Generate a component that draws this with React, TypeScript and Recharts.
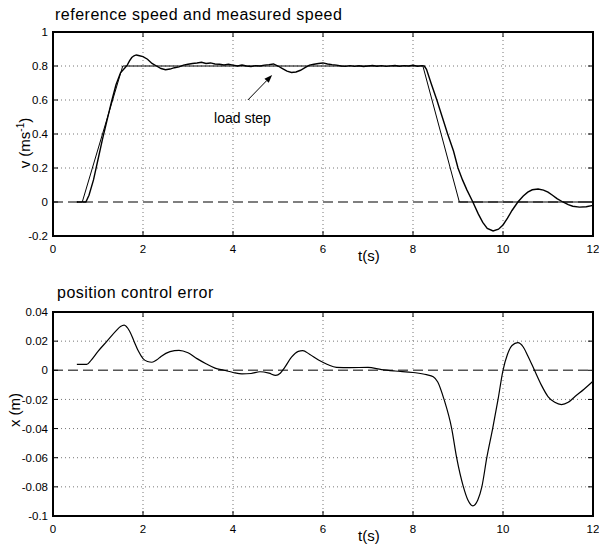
import {
  LineChart,
  Line,
  XAxis,
  YAxis,
  CartesianGrid,
  ReferenceLine,
  ReferenceDot,
} from "recharts";

// reference speed profile (m/s)
const refT = [0.53, 0.65, 1.55, 8.22, 9.03, 12];
const refV = [0, 0, 0.8, 0.8, 0, 0];

// measured speed (m/s)
const measT = [
  0.53, 0.73, 0.8, 0.9, 1.0, 1.1, 1.2, 1.3, 1.4, 1.5, 1.6, 1.65, 1.7, 1.75, 1.8, 1.85, 1.9, 2.0,
  2.1, 2.2, 2.3, 2.4, 2.5, 2.6, 2.7, 2.8, 2.9, 3.0, 3.1, 3.2, 3.3, 3.4, 3.5, 3.6, 3.7, 3.8, 3.9,
  4.0, 4.1, 4.2, 4.3, 4.4, 4.5, 4.6, 4.7, 4.8, 4.9, 5.0, 5.1, 5.2, 5.3, 5.4, 5.5, 5.6, 5.7, 5.8,
  5.9, 6.0, 6.1, 6.2, 6.3, 6.4, 6.5, 6.6, 6.7, 6.8, 6.9, 7.0, 7.1, 7.2, 7.3, 7.4, 7.5, 7.6, 7.7,
  7.8, 7.9, 8.0, 8.1, 8.2, 8.25, 8.3, 8.4, 8.53, 8.65, 8.77, 8.9, 9.0, 9.1, 9.2, 9.33, 9.45,
  9.55, 9.65, 9.78, 9.9, 10.0, 10.1, 10.2, 10.33, 10.45, 10.55, 10.65, 10.78, 10.9, 11.0, 11.1,
  11.2, 11.33, 11.45, 11.55, 11.7, 11.85, 12.0,
];
const measV = [
  0, 0, 0.04, 0.13, 0.25, 0.37, 0.48, 0.59, 0.69, 0.76, 0.79, 0.805, 0.83, 0.85, 0.86, 0.865,
  0.862, 0.855, 0.84, 0.815, 0.8, 0.785, 0.778, 0.782, 0.79, 0.795, 0.805, 0.81, 0.815, 0.818,
  0.822, 0.815, 0.818, 0.812, 0.81, 0.806, 0.81, 0.805, 0.8, 0.806, 0.8, 0.797, 0.802, 0.8,
  0.805, 0.808, 0.812, 0.8, 0.785, 0.77, 0.762, 0.765, 0.775, 0.79, 0.805, 0.81, 0.815, 0.818,
  0.812, 0.808, 0.805, 0.8, 0.798, 0.802, 0.798, 0.801, 0.797, 0.8, 0.803, 0.799, 0.802, 0.798,
  0.801, 0.803, 0.799, 0.802, 0.8, 0.804, 0.799, 0.802, 0.8, 0.78, 0.7, 0.6, 0.5, 0.4, 0.3, 0.2,
  0.13, 0.07, 0, -0.07, -0.12, -0.155, -0.17, -0.16, -0.135, -0.095, -0.05, 0, 0.035, 0.058,
  0.072, 0.076, 0.07, 0.058, 0.04, 0.02, 0, -0.015, -0.025, -0.03, -0.028, -0.02,
];

// position control error (m)
const errT = [
  0.53, 0.75, 0.85, 1.0, 1.2, 1.4, 1.5, 1.58, 1.7, 1.8, 1.9, 2.0, 2.1, 2.2, 2.3, 2.4, 2.6, 2.8,
  3.0, 3.2, 3.4, 3.6, 3.8, 4.0, 4.2, 4.4, 4.6, 4.8, 4.95, 5.05, 5.15, 5.3, 5.45, 5.55, 5.7, 5.9,
  6.1, 6.3, 6.6, 7.0, 7.3, 7.6, 8.0, 8.3, 8.45, 8.55, 8.69, 8.86, 8.97, 9.12, 9.22, 9.33, 9.44,
  9.53, 9.64, 9.77, 9.89, 10.0, 10.1, 10.2, 10.33, 10.45, 10.55, 10.7, 10.85, 11.0, 11.15, 11.3,
  11.45, 11.6, 11.8, 12.0,
];
const errX = [
  0.004, 0.004, 0.007, 0.013, 0.02, 0.027, 0.03, 0.031, 0.027, 0.02, 0.013, 0.008, 0.006, 0.0055,
  0.007, 0.0095, 0.0128, 0.0137, 0.012, 0.008, 0.0045, 0.0015, 0, -0.0015, -0.0025, -0.0022,
  -0.001, -0.002, -0.0035, -0.002, 0.002, 0.009, 0.013, 0.0135, 0.011, 0.007, 0.004, 0.002,
  0.0018, 0.002, 0.0005, -0.0005, -0.0015, -0.003, -0.0045, -0.008, -0.02, -0.04, -0.06, -0.08,
  -0.089, -0.093, -0.089, -0.08, -0.06, -0.04, -0.02, 0, 0.011, 0.017, 0.019, 0.016, 0.01, 0,
  -0.01, -0.018, -0.022, -0.0235, -0.022, -0.018, -0.013, -0.0075,
];

const tTicks = [0, 2, 4, 6, 8, 10, 12];
const vTicks = [-0.2, 0, 0.2, 0.4, 0.6, 0.8, 1];
const xTicks = [-0.1, -0.08, -0.06, -0.04, -0.02, 0, 0.02, 0.04];

const refData = refT.map((t, i) => ({ t, v: refV[i] }));
const measData = measT.map((t, i) => ({ t, v: measV[i] }));
const errData = errT.map((t, i) => ({ t, x: errX[i] }));

const FONT = "'Liberation Sans', Arial, Helvetica, sans-serif";
const tickStyle = { fontSize: 11.5, fill: "#000", fontFamily: FONT };
const fmt = (v: number) => String(Number(v.toFixed(2)));
const TICK_LEN = 5;

const titleStyle: React.CSSProperties = {
  position: "absolute",
  fontFamily: FONT,
  fontSize: 16,
  lineHeight: "16px",
  letterSpacing: 0.5,
  color: "#000",
  whiteSpace: "nowrap",
};

// plot box outline (matlab style axes frame)
const frameStyle: React.CSSProperties = {
  position: "absolute",
  left: 52,
  width: 542,
  height: 206,
  boxSizing: "border-box",
  border: "2px solid #000",
  pointerEvents: "none",
};

function Arrow(p: any) {
  const { x1, y1, x2, y2 } = p;
  const a = Math.atan2(y2 - y1, x2 - x1);
  const L = 8;
  const W = 3;
  const bx = x2 - L * Math.cos(a);
  const by = y2 - L * Math.sin(a);
  const pts = [
    [x2, y2],
    [bx + W * Math.sin(a), by - W * Math.cos(a)],
    [bx - W * Math.sin(a), by + W * Math.cos(a)],
  ]
    .map((q) => q.join(","))
    .join(" ");
  return (
    <g>
      <line x1={x1} y1={y1} x2={bx} y2={by} stroke="#000" strokeWidth={1} />
      <polygon points={pts} fill="#000" />
    </g>
  );
}

// short inward tick marks at both ends of a vertical segment
function VTickMarks(p: any) {
  const top = Math.min(p.y1, p.y2);
  const bot = Math.max(p.y1, p.y2);
  return (
    <g stroke="#000" strokeWidth={1}>
      <line x1={p.x1} y1={top} x2={p.x1} y2={top + TICK_LEN} />
      <line x1={p.x1} y1={bot} x2={p.x1} y2={bot - TICK_LEN} />
    </g>
  );
}

// short inward tick marks at both ends of a horizontal segment
function HTickMarks(p: any) {
  const l = Math.min(p.x1, p.x2);
  const r = Math.max(p.x1, p.x2);
  return (
    <g stroke="#000" strokeWidth={1}>
      <line x1={l} y1={p.y1} x2={l + TICK_LEN} y2={p.y1} />
      <line x1={r} y1={p.y1} x2={r - TICK_LEN} y2={p.y1} />
    </g>
  );
}

function tickMarks(yDomain: number[], yTicks: number[]) {
  return [
    ...tTicks.map((t) => (
      <ReferenceLine
        key={`vt${t}`}
        segment={[
          { x: t, y: yDomain[0] },
          { x: t, y: yDomain[1] },
        ]}
        shape={VTickMarks}
      />
    )),
    ...yTicks.map((v) => (
      <ReferenceLine
        key={`ht${v}`}
        segment={[
          { x: 0, y: v },
          { x: 12, y: v },
        ]}
        shape={HTickMarks}
      />
    )),
  ];
}

function SpeedYLabel(p: any) {
  const vb = p.viewBox;
  const x = vb.x + 30;
  const y = vb.y + vb.height / 2 + 9;
  return (
    <text
      x={x}
      y={y}
      transform={`rotate(-90, ${x}, ${y})`}
      textAnchor="middle"
      fontFamily={FONT}
      fontSize={15}
      fill="#000"
    >
      v (ms<tspan dy={-6} fontSize={10}>-1</tspan>
      <tspan dy={6}>)</tspan>
    </text>
  );
}

function ErrYLabel(p: any) {
  const vb = p.viewBox;
  const x = vb.x + 20;
  const y = vb.y + vb.height / 2 - 4;
  return (
    <text
      x={x}
      y={y}
      transform={`rotate(-90, ${x}, ${y})`}
      textAnchor="middle"
      fontFamily={FONT}
      fontSize={15}
      fill="#000"
    >
      x (m)
    </text>
  );
}

function TLabel(p: any) {
  const vb = p.viewBox;
  return (
    <text
      x={vb.x + vb.width * 0.585}
      y={vb.y + 25}
      textAnchor="middle"
      fontFamily={FONT}
      fontSize={15}
      fill="#000"
    >
      t(s)
    </text>
  );
}

export default function App() {
  return (
    <div style={{ position: "absolute", left: 0, top: 0, width: 599, height: 547, background: "#fff" }}>
      <div style={{ ...titleStyle, left: 55, top: 7 }}>reference speed and measured speed</div>
      <div style={{ ...titleStyle, left: 57, top: 285 }}>position control error</div>

      <div style={{ position: "absolute", left: 0, top: 0 }}>
        <LineChart width={599} height={270} margin={{ top: 32, right: 6, bottom: 0, left: 0 }}>
          <CartesianGrid
            stroke="#777"
            strokeDasharray="1 3"
            horizontalValues={vTicks.filter((v) => v !== 0)}
            verticalValues={tTicks}
          />
          <XAxis
            type="number"
            dataKey="t"
            domain={[0, 12]}
            ticks={tTicks}
            height={34}
            tick={tickStyle}
            tickLine={false}
            tickSize={6}
            tickMargin={3}
            axisLine={false}
            label={<TLabel />}
          />
          <YAxis
            type="number"
            domain={[-0.2, 1]}
            ticks={vTicks}
            width={53}
            tick={tickStyle}
            tickFormatter={fmt}
            tickLine={false}
            tickSize={3}
            tickMargin={2}
            axisLine={false}
            label={<SpeedYLabel />}
          />
          <ReferenceLine y={0} stroke="#555" strokeWidth={1.5} strokeDasharray="10 5" />
          {tickMarks([-0.2, 1], vTicks)}
          <Line
            data={refData}
            dataKey="v"
            type="linear"
            stroke="#000"
            strokeWidth={1}
            dot={false}
            isAnimationActive={false}
          />
          <Line
            data={measData}
            dataKey="v"
            type="linear"
            stroke="#000"
            strokeWidth={1.4}
            dot={false}
            isAnimationActive={false}
          />
          <ReferenceLine
            segment={[
              { x: 4.33, y: 0.6 },
              { x: 4.87, y: 0.747 },
            ]}
            shape={Arrow}
          />
          <ReferenceDot
            x={4.21}
            y={0.465}
            r={0}
            shape={(p: any) => (
              <text x={p.cx} y={p.cy} textAnchor="middle" fontFamily={FONT} fontSize={14} fill="#000">
                load step
              </text>
            )}
          />
        </LineChart>
      </div>

      <div style={{ position: "absolute", left: 0, top: 270 }}>
        <LineChart width={599} height={277} margin={{ top: 42, right: 6, bottom: 0, left: 0 }} data={errData}>
          <CartesianGrid
            stroke="#777"
            strokeDasharray="1 3"
            horizontalValues={xTicks.filter((v) => v !== 0)}
            verticalValues={tTicks}
          />
          <XAxis
            type="number"
            dataKey="t"
            domain={[0, 12]}
            ticks={tTicks}
            height={31}
            tick={tickStyle}
            tickLine={false}
            tickSize={6}
            tickMargin={3}
            axisLine={false}
            label={<TLabel />}
          />
          <YAxis
            type="number"
            domain={[-0.1, 0.04]}
            ticks={xTicks}
            width={53}
            tick={tickStyle}
            tickFormatter={fmt}
            tickLine={false}
            tickSize={3}
            tickMargin={2}
            axisLine={false}
            label={<ErrYLabel />}
          />
          <ReferenceLine y={0} stroke="#555" strokeWidth={1.5} strokeDasharray="10 5" />
          {tickMarks([-0.1, 0.04], xTicks)}
          <Line
            dataKey="x"
            type="monotone"
            stroke="#000"
            strokeWidth={1.2}
            dot={false}
            isAnimationActive={false}
          />
        </LineChart>
      </div>

      <div style={{ ...frameStyle, top: 31 }} />
      <div style={{ ...frameStyle, top: 311 }} />
    </div>
  );
}
